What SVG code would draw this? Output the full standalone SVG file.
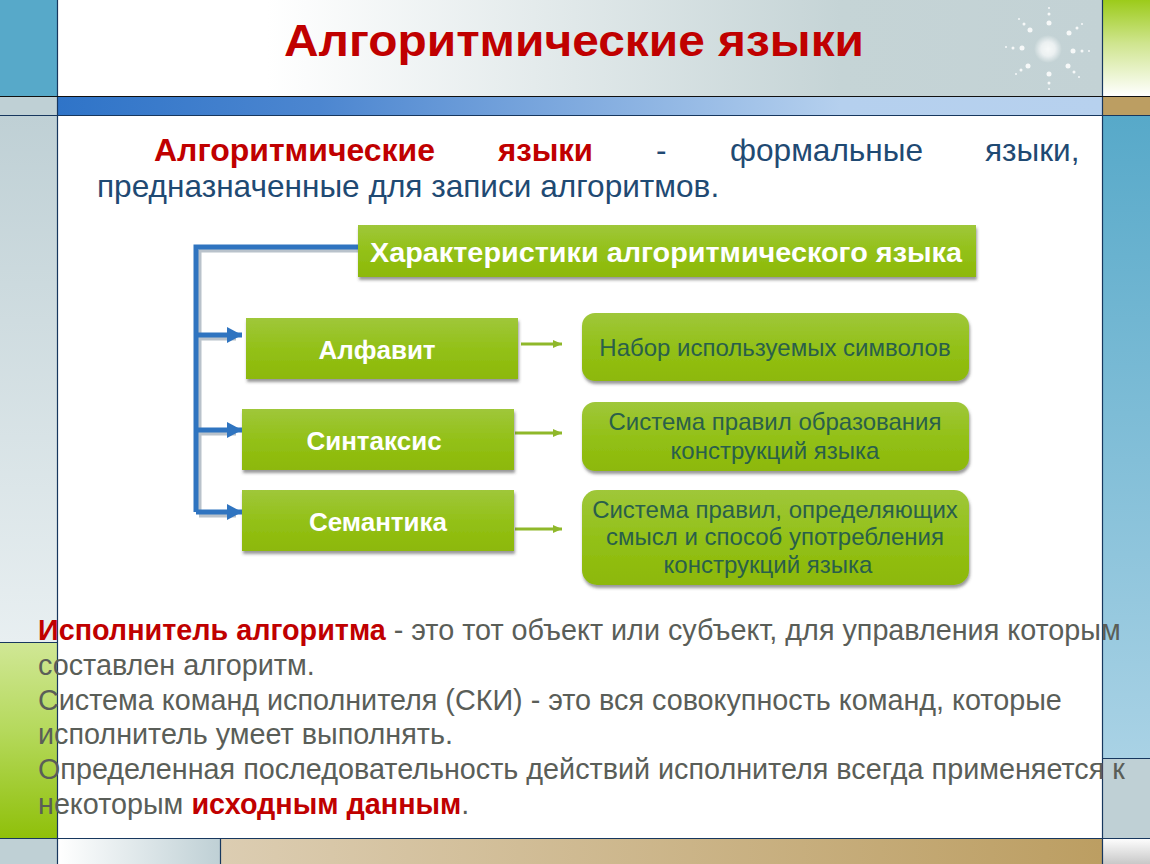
<svg xmlns="http://www.w3.org/2000/svg" width="1150" height="864" viewBox="0 0 1150 864">
<style>
text{font-family:"Liberation Sans",Arial,sans-serif}
.rule{stroke:#17375e;stroke-width:1.2;fill:none}
.h{font-weight:700;fill:#c00000}
.blue{fill:#1f4a73;font-size:31.600px}
.g{fill:#5a5e58;font-size:28.750px}
.w{fill:#fff;font-weight:700;font-size:26px;text-anchor:middle}
.d{fill:#2a5f4a;font-size:24px;text-anchor:middle}
.box{fill:url(#gb);filter:url(#sh)}
.conn{stroke:#2f74c0;stroke-width:5;fill:none}
.shade{stroke:#8a9aa8;stroke-width:5;fill:none;opacity:.6}
.thin{stroke:#8fb82a;stroke-width:3;fill:none}
</style>
<defs>
<linearGradient id="top"><stop offset="0" stop-color="#fff"/><stop offset=".2" stop-color="#fff"/><stop offset=".75" stop-color="#c5d4d6"/><stop offset="1" stop-color="#c3d2d5"/></linearGradient>
<linearGradient id="bar"><stop offset="0" stop-color="#2f74c8"/><stop offset=".25" stop-color="#4c86d0"/><stop offset=".75" stop-color="#b5d0ee"/><stop offset="1" stop-color="#b7d1ee"/></linearGradient>
<linearGradient id="lg" x2="0" y2="1"><stop offset="0" stop-color="#bfd0d5"/><stop offset="1" stop-color="#e8eff1"/></linearGradient>
<linearGradient id="lgreen" x2="0" y2="1"><stop offset="0" stop-color="#d0e795"/><stop offset=".45" stop-color="#b5d95c"/><stop offset="1" stop-color="#8fc00a"/></linearGradient>
<linearGradient id="rgreen" x2="0" y2="1"><stop offset="0" stop-color="#9ccb1a"/><stop offset=".45" stop-color="#cfe58e"/><stop offset="1" stop-color="#fff"/></linearGradient>
<linearGradient id="rb" x2="0" y2="1"><stop offset="0" stop-color="#57a9c9"/><stop offset="1" stop-color="#a9d2e5"/></linearGradient>
<linearGradient id="rw" x2="0" y2="1"><stop offset="0" stop-color="#fff"/><stop offset="1" stop-color="#c8c8c8"/></linearGradient>
<linearGradient id="bot"><stop offset="0" stop-color="#fff"/><stop offset="1" stop-color="#bfd0d5"/></linearGradient>
<linearGradient id="tan"><stop offset="0" stop-color="#dccdb2"/><stop offset="1" stop-color="#bc9e62"/></linearGradient>
<linearGradient id="gb" x2="0" y2="1"><stop offset="0" stop-color="#9fc73a"/><stop offset=".55" stop-color="#92c015"/><stop offset="1" stop-color="#8db80a"/></linearGradient>
<radialGradient id="sun"><stop offset="0" stop-color="#fff"/><stop offset=".5" stop-color="#fff" stop-opacity=".8"/><stop offset="1" stop-color="#fff" stop-opacity="0"/></radialGradient>
<filter id="sh" x="-5%" y="-10%" width="110%" height="125%"><feGaussianBlur in="SourceGraphic" stdDeviation=".6" result="b"/><feDropShadow in="b" dx="1" dy="3" stdDeviation="1.800" flood-color="#444" flood-opacity=".55"/></filter>
<filter id="soft"><feGaussianBlur stdDeviation=".6"/></filter>
<marker id="big" markerUnits="userSpaceOnUse" markerWidth="16" markerHeight="18" refX="15" refY="9" orient="auto"><path d="M0 1L15 9L0 17z" fill="#2f74c0"/></marker>
<marker id="small" markerUnits="userSpaceOnUse" markerWidth="10" markerHeight="8" refX="9" refY="4" orient="auto"><path d="M0 0L9 4L0 8z" fill="#8fb82a"/></marker>
</defs>
<g id="background">
<rect width="1150" height="864" fill="#fff"/>
<rect x="0" y="0" width="58" height="96" fill="#57a9c9"/>
<rect x="0" y="96" width="58" height="19" fill="#bfd0d5"/>
<rect x="0" y="115" width="58" height="528" fill="url(#lg)"/>
<rect x="0" y="643" width="58" height="195" fill="url(#lgreen)"/>
<rect x="0" y="838" width="58" height="26" fill="#bfd0d5"/>
<rect x="58" y="0" width="1044" height="96" fill="url(#top)"/>
<rect x="58" y="96" width="1044" height="19" fill="url(#bar)"/>
<rect x="1102" y="0" width="48" height="96" fill="url(#rgreen)"/>
<rect x="1102" y="96" width="48" height="19" fill="#bc9e62"/>
<rect x="1102" y="115" width="48" height="643" fill="url(#rb)"/>
<rect x="1102" y="758" width="48" height="80" fill="#bfd0d5"/>
<rect x="1102" y="838" width="48" height="26" fill="url(#rw)"/>
<rect x="58" y="838" width="162" height="26" fill="url(#bot)"/>
<rect x="220" y="838" width="882" height="26" fill="url(#tan)"/>
<path class="rule" d="M57.500 0V864M1102.500 0V864M0 115.500H1150M0 642.500H58M1102 758.500H1150M0 838.500H1150M220.500 838V864"/>
<path d="M0 96.500H1150" stroke="#111" stroke-width="1.200"/>
<g id="sparkle" fill="#fff" filter="url(#soft)" opacity=".85">
<circle cx="1048" cy="49" r="14" fill="url(#sun)"/>
<circle cx="1049" cy="23" r="2.500"/><circle cx="1049" cy="14" r="1.500"/><circle cx="1049" cy="8" r="1"/>
<circle cx="1049" cy="74" r="2.500"/><circle cx="1049" cy="83" r="1.500"/><circle cx="1049" cy="89" r="1"/>
<circle cx="1022" cy="48" r="2.500"/><circle cx="1013" cy="48" r="1.500"/><circle cx="1006" cy="47" r="1"/>
<circle cx="1073" cy="51" r="2.500"/><circle cx="1082" cy="51" r="1.500"/><circle cx="1089" cy="51" r="1"/>
<circle cx="1030" cy="30" r="2.500"/><circle cx="1024" cy="24" r="1.500"/><circle cx="1019" cy="19" r="1"/>
<circle cx="1069" cy="33" r="2.500"/><circle cx="1077" cy="28" r="1.500"/><circle cx="1082" cy="24" r="1"/>
<circle cx="1028" cy="66" r="2.500"/><circle cx="1021" cy="70" r="1.500"/><circle cx="1016" cy="74" r="1"/>
<circle cx="1068" cy="66" r="2.500"/><circle cx="1074" cy="72" r="1.500"/><circle cx="1079" cy="77" r="1"/>
</g>
</g>
<g id="title"><text class="h" x="574" y="56" font-size="45" text-anchor="middle" textLength="580" lengthAdjust="spacingAndGlyphs">Алгоритмические языки</text></g>
<g id="intro">
<text class="h" x="154" y="161" font-size="31.600" textLength="281" lengthAdjust="spacingAndGlyphs">Алгоритмические</text>
<text class="h" x="498" y="161" font-size="31.600" textLength="95" lengthAdjust="spacingAndGlyphs">языки</text>
<text class="blue" x="656" y="161">-</text>
<text class="blue" x="730" y="161">формальные</text>
<text class="blue" x="985" y="161">языки,</text>
<text class="blue" x="97" y="197">предназначенные для записи алгоритмов.</text>
</g>
<g id="connectors">
<path class="shade" d="M199 250H358M199 250V514M199 338H236M199 433H236M199 515H236"/>
<path class="conn" d="M358 247H196V512"/>
<path class="conn" d="M196 335H242" marker-end="url(#big)"/>
<path class="conn" d="M196 430H242" marker-end="url(#big)"/>
<path class="conn" d="M196 512H242" marker-end="url(#big)"/>
<path class="thin" d="M521 344H562" marker-end="url(#small)"/>
<path class="thin" d="M515 433H562" marker-end="url(#small)"/>
<path class="thin" d="M515 529H562" marker-end="url(#small)"/>
</g>
<g id="node-head"><rect class="box" x="358" y="225" width="618" height="52"/><text class="w" x="666" y="262" style="font-size:28px" textLength="592" lengthAdjust="spacingAndGlyphs">Характеристики алгоритмического языка</text></g>
<g id="node-alphabet"><rect class="box" x="246" y="318" width="272" height="61"/><text class="w" x="377" y="359">Алфавит</text></g>
<g id="node-syntax"><rect class="box" x="242" y="409" width="272" height="61"/><text class="w" x="374" y="450">Синтаксис</text></g>
<g id="node-semantics"><rect class="box" x="242" y="490" width="272" height="61"/><text class="w" x="378" y="531">Семантика</text></g>
<g id="node-d1"><rect class="box" x="582" y="313" width="387" height="68" rx="13"/><text class="d" x="775" y="356">Набор используемых символов</text></g>
<g id="node-d2"><rect class="box" x="582" y="402" width="387" height="69" rx="13"/><text class="d" x="775" y="430">Система правил образования</text><text class="d" x="775" y="459">конструкций языка</text></g>
<g id="node-d3"><rect class="box" x="582" y="490" width="387" height="95" rx="15"/><text class="d" x="775" y="518">Система правил, определяющих</text><text class="d" x="775" y="545">смысл и способ употребления</text><text class="d" x="768" y="573">конструкций языка</text></g>
<g id="body">
<text class="g" x="38" y="640"><tspan class="h">Исполнитель алгоритма</tspan> - это тот объект или субъект, для управления которым</text>
<text class="g" x="38" y="675">составлен алгоритм.</text>
<text class="g" x="38" y="710">Система команд исполнителя (СКИ) - это вся совокупность команд, которые</text>
<text class="g" x="38" y="744">исполнитель умеет выполнять.</text>
<text class="g" x="38" y="779">Определенная последовательность действий исполнителя всегда применяется к</text>
<text class="g" x="38" y="814">некоторым <tspan class="h">исходным данным</tspan>.</text>
</g>
</svg>
